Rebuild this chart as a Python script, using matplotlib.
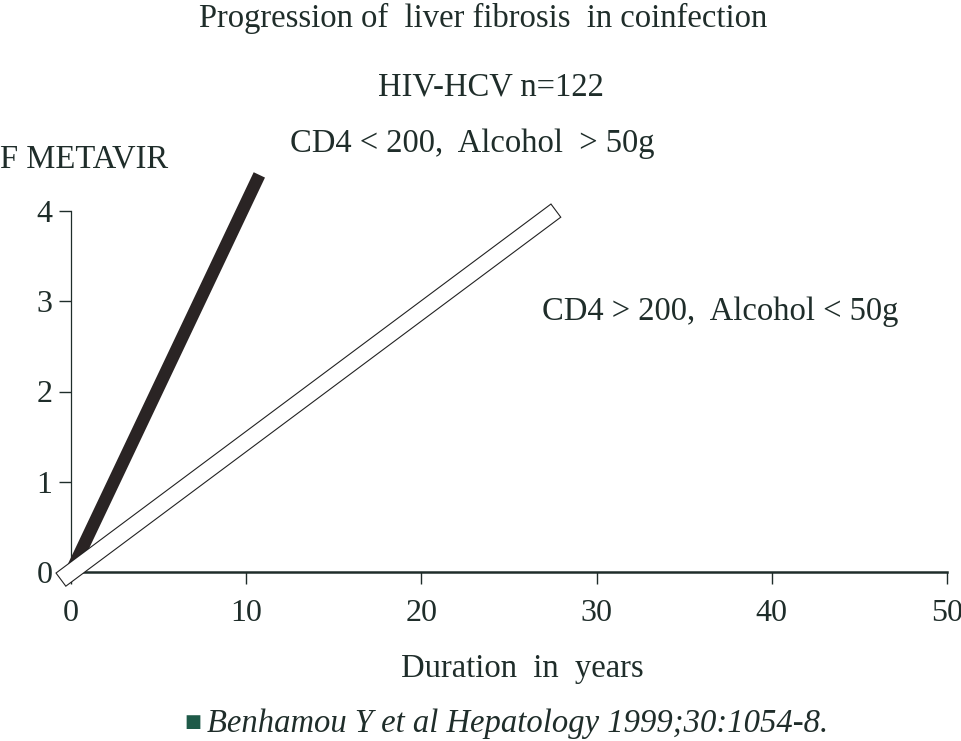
import matplotlib
matplotlib.use("Agg")
import matplotlib.pyplot as plt
import matplotlib.patheffects as pe

# fibrosis progression lines (duration in years, METAVIR score)
years_fast = [0, 10.75]
score_fast = [0, 4.4]
years_slow = [-0.2, 27.3]
score_slow = [-0.03, 3.95]

xticks = [0, 10, 20, 30, 40, 50]
yticks = [0, 1, 2, 3, 4]

title = "Progression of  liver fibrosis  in coinfection"
subtitle = "HIV-HCV n=122"
label_fast = "CD4 < 200,  Alcohol  > 50g"
label_slow = "CD4 > 200,  Alcohol < 50g"
xlabel = "Duration  in  years"
ylabel = "F METAVIR"
source = "Benhamou Y et al Hepatology 1999;30:1054-8."

txt = "#1f2d2a"
W, H = 962, 741

plt.rcParams['font.family'] = ['Liberation Serif', 'DejaVu Serif']
plt.rcParams['font.size'] = 23.5

fig = plt.figure(figsize=(W / 100, H / 100), dpi=100)
ax = fig.add_axes([71 / W, 169 / H, 876 / W, 361 / H])
ax.set_xlim(0, 50)
ax.set_ylim(0, 4)

# thick dark line
ax.plot(years_fast, score_fast, color="#2a2424", lw=9,
        solid_capstyle='butt', clip_on=False, zorder=3)
# open bar: white line with a thin black outline
ax.plot(years_slow, score_slow, color="white", lw=11,
        solid_capstyle='projecting', clip_on=False, zorder=4,
        path_effects=[pe.Stroke(linewidth=12.6, foreground="#222222",
                                capstyle='projecting'),
                      pe.Normal()])

for s in ['top', 'right']:
    ax.spines[s].set_visible(False)
ax.spines['bottom'].set_linewidth(1.8)
ax.spines['left'].set_linewidth(0.9)
ax.spines['bottom'].set_color(txt)
ax.spines['left'].set_color(txt)

ax.set_xticks(xticks)
ax.set_yticks(yticks)
ax.tick_params(axis='both', colors=txt, labelcolor=txt, length=8.5, width=1,
               labelsize=23)
ax.tick_params(axis='x', pad=11)
ax.tick_params(axis='y', pad=5)

ax.text(22.9, 4.74, label_fast, ha='center', va='center', color=txt)
ax.text(26.9, 2.88, label_slow, ha='left', va='center', color=txt)

fig.text(483 / W, 1 - 27 / H, title, ha='center', va='baseline', color=txt)
fig.text(491 / W, 1 - 95 / H, subtitle, ha='center', va='baseline', color=txt)
fig.text(0, 1 - 168 / H, ylabel, ha='left', va='baseline', color=txt)
fig.text(522 / W, 1 - 677 / H, xlabel, ha='center', va='baseline', color=txt)

fig.text(184 / W, 1 - 722 / H, "\u25A0", ha='left', va='center',
         color="#1e5a48", fontsize=13, family=['DejaVu Sans'])
fig.text(207 / W, 1 - 732 / H, source, ha='left', va='baseline',
         color=txt, style='italic')

fig.savefig("out.png", dpi=100, facecolor="white")
